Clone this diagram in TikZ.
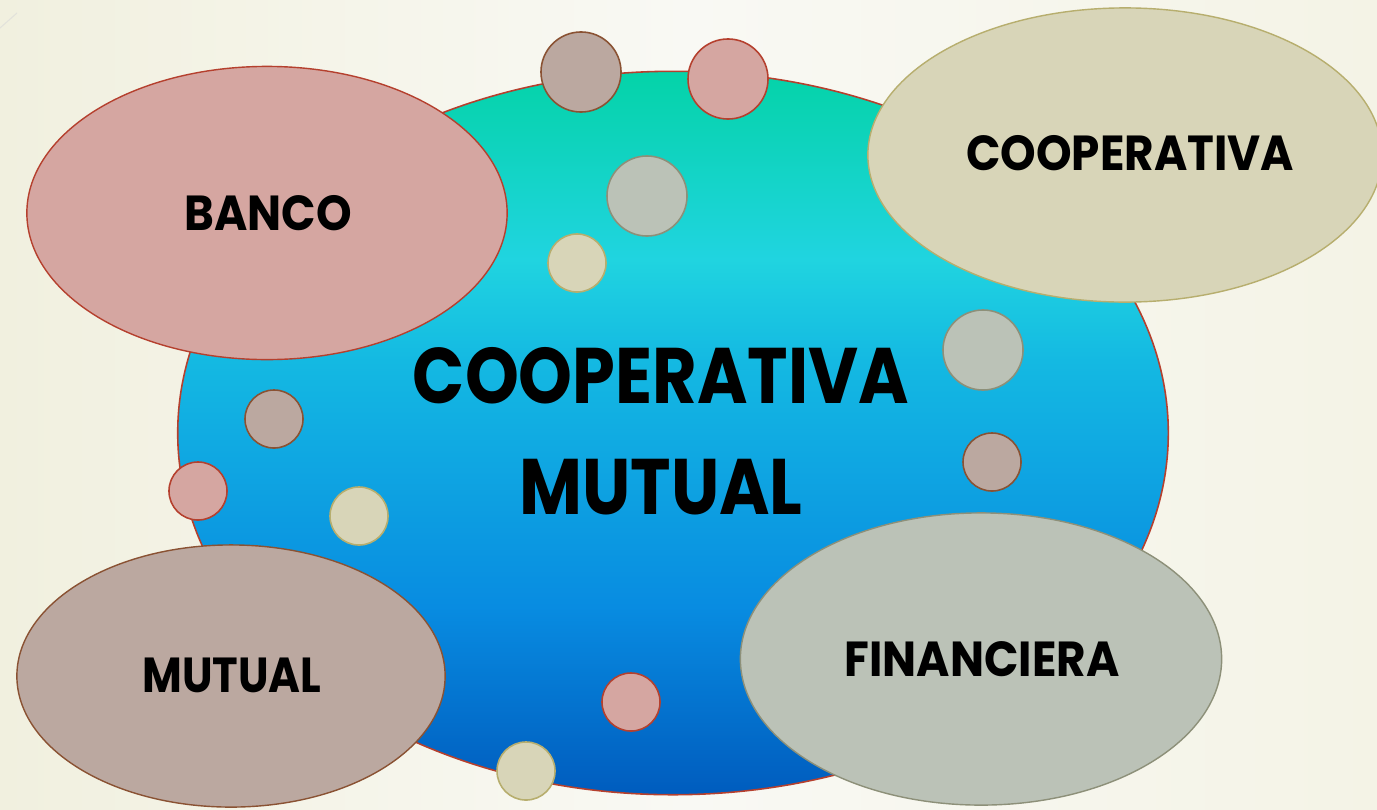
\documentclass[tikz,border=0pt]{standalone}
\usepackage{fontspec}
\setmainfont{Poppins}
\usetikzlibrary{shapes.geometric}

% palette
\definecolor{pagel}{HTML}{F1F0DF}
\definecolor{pagem}{HTML}{F9F9F4}
\definecolor{pager}{HTML}{F4F3E6}
\definecolor{pinkfill}{HTML}{D5A6A1}
\definecolor{pinkline}{HTML}{B5402E}
\definecolor{brownfill}{HTML}{BBA8A0}
\definecolor{brownline}{HTML}{8A5233}
\definecolor{grayfill}{HTML}{BBC2B7}
\definecolor{grayline}{HTML}{8D9079}
\definecolor{beigefill}{HTML}{D8D5B8}
\definecolor{beigeline}{HTML}{B7AE6E}
\definecolor{seatop}{RGB}{4,211,168}
\definecolor{seacyan}{RGB}{32,212,224}
\definecolor{seamid}{RGB}{20,185,226}
\definecolor{seablue}{RGB}{8,140,225}
\definecolor{seabot}{RGB}{0,92,190}

\pgfdeclareverticalshading{sea}{100bp}{color(0bp)=(seabot); color(25bp)=(seabot);
  color(38bp)=(seablue); color(55bp)=(seamid); color(62bp)=(seacyan);
  color(75bp)=(seatop); color(100bp)=(seatop)}

% narrower caps for the labels
\newcommand{\tagtext}[1]{\scalebox{0.92}[1]{#1}}

\tikzset{
  tag/.style={font=\fontsize{14}{16}\selectfont\bfseries},
  blob/.style={ellipse, inner sep=0pt, line width=0.4pt, tag},
  blob pink/.style={blob, fill=pinkfill, draw=pinkline},
  blob brown/.style={blob, fill=brownfill, draw=brownline},
  blob gray/.style={blob, fill=grayfill, draw=grayline},
  blob beige/.style={blob, fill=beigefill, draw=beigeline},
  dot/.style={line width=0.45pt},
  dot pink/.style={dot, fill=pinkfill, draw=pinkline},
  dot brown/.style={dot, fill=brownfill, draw=brownline},
  dot gray/.style={dot, fill=grayfill, draw=grayline},
  dot beige/.style={dot, fill=beigefill, draw=beigeline},
}

\begin{document}
\begin{tikzpicture}[x=0.01cm,y=-0.01cm]

% Page
\useasboundingbox (0,0) rectangle (1377,809);
\clip (0,0) rectangle (1377,809);
\shade[left color=pagel, right color=pager, middle color=pagem] (0,0) rectangle (1377,809);
\draw[pagel!70!gray!60, line width=0.3pt] (0,28) -- (17,13);

% Big pool
\node[ellipse, shading=sea, draw=pinkline, line width=0.45pt,
  minimum width=9.90cm, minimum height=7.23cm] (pool) at (673,433) {};

% Small bubbles
\foreach \x/\y/\r/\c in {581/72/0.40/brown, 728/79/0.40/pink, 647/196/0.40/gray,
  577/263/0.29/beige, 274/419/0.29/brown, 198/491/0.29/pink, 359/516/0.29/beige,
  983/350/0.40/gray, 992/462/0.29/brown, 631/702/0.29/pink, 526/771/0.29/beige} {
\draw[dot \c] (\x,\y) circle[radius=\r cm];
}

% Big bubbles
\node[blob pink, minimum width=4.80cm, minimum height=2.93cm] (banco) at (267,213) {};
\node[blob beige, minimum width=5.14cm, minimum height=2.94cm] (coop) at (1125,155) {};
\node[blob brown, minimum width=4.28cm, minimum height=2.62cm] (mutual) at (231,676) {};
\node[blob gray, minimum width=4.81cm, minimum height=2.92cm] (finan) at (981,659) {};

\node[tag] (bancolbl) at (268,213) {\tagtext{BANCO}};
\node[tag] (cooplbl) at (1130,153) {\tagtext{COOPERATIVA}};
\node[tag] (mutlbl) at (232,675) {\scalebox{0.88}[1]{MUTUAL}};
\node[tag] (finlbl) at (982,659) {\tagtext{FINANCIERA}};

% Title
\node[font=\fontsize{22.4}{31.6}\selectfont\bfseries, align=center] (title) at (661,431)
  {\scalebox{0.87}[1]{COOPERATIVA}\\\scalebox{0.87}[1]{MUTUAL}};

\end{tikzpicture}
\end{document}
